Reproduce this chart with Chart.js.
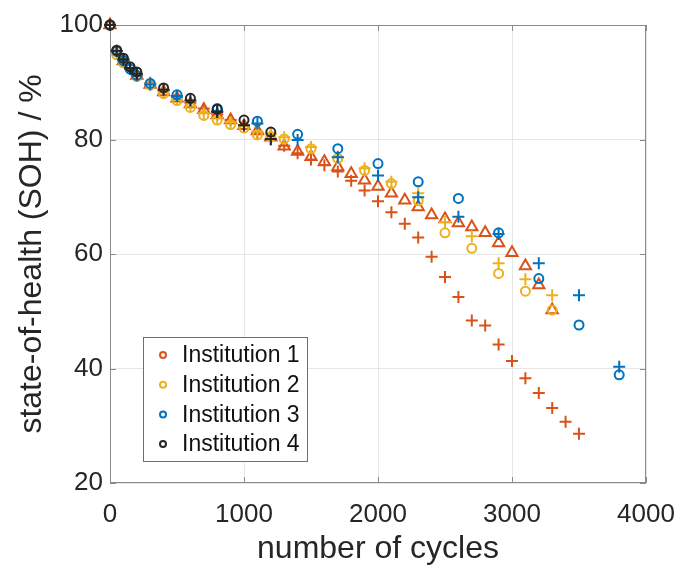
<!DOCTYPE html>
<html>
<head>
<meta charset="utf-8">
<script src="https://cdn.jsdelivr.net/npm/chart.js@4.4.0/dist/chart.umd.min.js"></script>
<style>
  html, body { margin: 0; padding: 0; background: #fff; }
</style>
</head>
<body>
<canvas id="myChart" width="681" height="566"></canvas>
<script>
/* data */
const inst1TriCycles = [0,100,200,300,400,500,600,700,800,900,1000,1100,1200,1300,1400,1500,1600,1700,1800,1900,2000,2100,2200,2300,2400,2500,2600,2700,2800,2900,3000,3100,3200,3300];
const inst1TriSoh = [100,93.7,91.2,89.6,88.3,87.2,86.2,85.2,84.3,83.4,82.4,81.5,80.4,78.8,77.9,77.0,76.1,75.2,74.0,72.9,71.8,70.6,69.4,68.2,66.8,66.1,65.4,64.7,63.7,61.9,60.2,57.9,54.6,50.2];

const inst1PlusCycles = [0,100,200,300,400,500,600,700,800,900,1000,1100,1200,1300,1400,1500,1600,1700,1800,1900,2000,2100,2200,2300,2400,2500,2600,2700,2800,2900,3000,3100,3200,3300,3400,3500];
const inst1PlusSoh = [100,93.9,91.4,89.8,88.5,87.4,86.4,85.4,84.4,83.4,82.3,81.2,80.0,78.9,77.6,76.5,75.5,74.4,72.8,71.1,69.2,67.3,65.3,62.9,59.5,56.0,52.5,48.4,47.5,44.2,41.3,38.3,35.7,33.1,30.7,28.6];

const inst2Cycles = [0,50,100,200,300,400,500,600,700,800,900,1000,1100,1200,1300,1500,1700,1900,2100,2300,2500,2700,2900,3100,3300];
const inst2CircleSoh = [100,94.8,93.4,91.0,89.5,88.0,86.8,85.6,84.2,83.4,82.6,82.0,80.8,80.5,80.1,78.4,76.7,74.6,72.3,69.3,63.7,61.0,56.6,53.5,50.2];
const inst2PlusSoh = [100,95.0,93.6,91.2,89.7,88.2,87.0,85.8,84.6,83.8,83.0,82.4,81.4,81.0,80.4,78.7,77.0,75.0,72.6,70.6,65.6,63.1,58.4,55.6,52.8];

const inst3Cycles = [0,50,100,150,200,300,500,800,1100,1400,1700,2000,2300,2600,2900,3200,3500,3800];
const inst3CircleSoh = [100,95.4,93.8,92.3,91.2,89.8,87.8,85.4,83.2,80.9,78.4,75.8,72.6,69.7,63.7,55.7,47.6,38.9];
const inst3PlusSoh = [100,95.4,93.8,92.3,91.2,89.6,87.6,85.0,82.8,79.9,76.9,73.7,69.9,66.5,63.5,58.4,52.8,40.3];

const inst4Cycles = [0,50,100,150,200,400,600,800,1000,1200];
const inst4CircleSoh = [100,95.6,94.2,92.7,91.8,89.0,87.2,85.3,83.4,81.3];
const inst4PlusSoh = [100,95.5,94.0,92.5,91.5,88.7,86.8,84.8,82.5,80.1];

const legendLabels = ['Institution 1', 'Institution 2', 'Institution 3', 'Institution 4'];
const colors = ['#D95319', '#EDB120', '#0072BD', '#262626'];

const xTicks = [0, 1000, 2000, 3000, 4000];
const yTicks = [20, 40, 60, 80, 100];

const FONT = "'Liberation Sans', Arial, Helvetica, sans-serif";

function pts(xs, ys) {
  return xs.map((x, i) => ({ x: x, y: ys[i] }));
}

function ds(xs, ys, color, style, order) {
  var r = style === 'circle' ? 4.5 : (style === 'triangle' ? 6.5 : 6);
  return {
    data: pts(xs, ys),
    pointStyle: style,
    pointRadius: r,
    pointHoverRadius: r,
    borderColor: color,
    backgroundColor: 'rgba(0,0,0,0)',
    pointBorderWidth: 2,
    showLine: false,
    clip: false,
    order: order
  };
}

/* box, inward ticks and legend like the matlab figure */
const boxPlugin = {
  id: 'box',
  beforeDatasetsDraw(chart) {
    const ctx = chart.ctx;
    const a = chart.chartArea;
    const xs = chart.scales.x, ys = chart.scales.y;
    ctx.save();
    ctx.strokeStyle = '#8a8a8a';
    ctx.lineWidth = 1;
    ctx.strokeRect(a.left + 0.5, a.top + 0.5, a.right - a.left - 1, a.bottom - a.top - 1);
    ctx.beginPath();
    xTicks.forEach(v => {
      const px = Math.round(xs.getPixelForValue(v)) + 0.5;
      ctx.moveTo(px, a.bottom); ctx.lineTo(px, a.bottom - 6);
      ctx.moveTo(px, a.top); ctx.lineTo(px, a.top + 6);
    });
    yTicks.forEach(v => {
      const py = Math.round(ys.getPixelForValue(v)) + 0.5;
      ctx.moveTo(a.left, py); ctx.lineTo(a.left + 6, py);
      ctx.moveTo(a.right, py); ctx.lineTo(a.right - 6, py);
    });
    ctx.stroke();
    ctx.restore();
  },
  afterDraw(chart) {
    const ctx = chart.ctx;
    const bx = 143, by = 337, bw = 164, bh = 124;
    ctx.save();
    ctx.fillStyle = '#fff';
    ctx.fillRect(bx, by, bw, bh);
    ctx.strokeStyle = '#6e6e6e';
    ctx.lineWidth = 1;
    ctx.strokeRect(bx + 0.5, by + 0.5, bw, bh);
    ctx.font = '23px ' + FONT;
    ctx.textBaseline = 'middle';
    legendLabels.forEach((t, i) => {
      const y = by + 18 + i * 29.7;
      ctx.beginPath();
      ctx.arc(bx + 20, y, 3, 0, Math.PI * 2);
      ctx.strokeStyle = colors[i];
      ctx.lineWidth = 2;
      ctx.stroke();
      ctx.fillStyle = '#111';
      ctx.fillText(t, bx + 39, y + 1);
    });
    ctx.restore();
  }
};

const ctx = document.getElementById('myChart');
var config = {
  type: 'scatter',
  data: {
    datasets: [
      ds(inst4Cycles, inst4CircleSoh, colors[3], 'circle', 1),
      ds(inst4Cycles, inst4PlusSoh, colors[3], 'cross', 1),
      ds(inst3Cycles, inst3CircleSoh, colors[2], 'circle', 2),
      ds(inst3Cycles, inst3PlusSoh, colors[2], 'cross', 2),
      ds(inst2Cycles, inst2CircleSoh, colors[1], 'circle', 3),
      ds(inst2Cycles, inst2PlusSoh, colors[1], 'cross', 3),
      ds(inst1TriCycles, inst1TriSoh, colors[0], 'triangle', 4),
      ds(inst1PlusCycles, inst1PlusSoh, colors[0], 'cross', 4)
    ]
  },
  options: {
    responsive: false,
    animation: false,
    events: [],
    layout: { padding: { top: 25, right: 35, left: 0, bottom: 0 } },
    plugins: {
      legend: { display: false },
      tooltip: { enabled: false }
    },
    scales: {
      x: {
        type: 'linear',
        min: 0, max: 4000,
        afterFit: (s) => { s.height = 83; s.paddingLeft = 0; s.paddingRight = 0; },
        afterBuildTicks: (s) => { s.ticks = xTicks.map(v => ({ value: v })); },
        grid: { color: '#e6e6e6', drawTicks: false },
        border: { display: false },
        ticks: {
          color: '#262626', padding: 16, font: { family: FONT, size: 26 },
          callback: (v) => String(v)
        },
        title: {
          display: true, text: 'number of cycles', color: '#262626',
          font: { family: FONT, size: 32, lineHeight: 1 }, padding: { top: 0, bottom: 1 }
        }
      },
      y: {
        min: 20, max: 100,
        afterFit: (s) => { s.width = 110; s.paddingTop = 0; s.paddingBottom = 0; },
        afterBuildTicks: (s) => { s.ticks = yTicks.map(v => ({ value: v })); },
        grid: { color: '#e6e6e6', drawTicks: false },
        border: { display: false },
        ticks: {
          color: '#262626', padding: 7, font: { family: FONT, size: 26 },
          callback: (v) => String(v)
        },
        title: {
          display: true, text: 'state-of-health (SOH) / %', color: '#262626',
          font: { family: FONT, size: 32, lineHeight: 1 }, padding: { top: 16, bottom: 0 }
        }
      }
    }
  },
  plugins: [boxPlugin]
};

var myChart = new Chart(ctx, config);
</script>
</body>
</html>
